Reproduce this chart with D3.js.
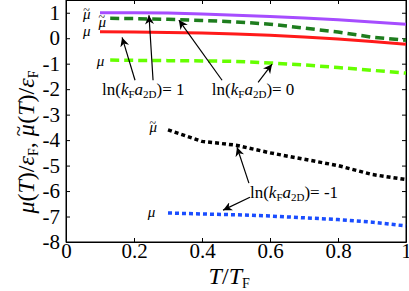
<!DOCTYPE html>
<html>
<head>
<meta charset="utf-8">
<script src="https://cdn.jsdelivr.net/npm/d3@7"></script>
<style>
  body { margin: 0; background: #fff; }
  svg { display: block; font-family: "Liberation Serif", "DejaVu Serif", serif; }
  .axis text { font-size: 21px; font-family: "Liberation Serif", serif; }
</style>
</head>
<body>
<svg id="chart" width="409" height="291"></svg>
<script>
// T/T_F values and curves
const purpleT = [0.1, 0.2, 0.3, 0.4, 0.5, 0.6, 0.7, 0.8, 0.9, 1.0];
const purpleY = [1.0, 1.0, 0.99, 0.95, 0.9, 0.85, 0.79, 0.72, 0.64, 0.55];

const redT = [0.1, 0.2, 0.3, 0.4, 0.5, 0.6, 0.7, 0.8, 0.9, 1.0];
const redY = [0.25, 0.24, 0.22, 0.2, 0.17, 0.12, 0.05, -0.03, -0.13, -0.24];

const dkGreenT = [0.13, 0.2, 0.3, 0.4, 0.5, 0.6, 0.7, 0.8, 0.9, 1.0];
const dkGreenY = [0.78, 0.77, 0.74, 0.7, 0.64, 0.55, 0.4, 0.24, 0.04, -0.08];

const ltGreenT = [0.13, 0.2, 0.3, 0.4, 0.5, 0.6, 0.7, 0.8, 0.9, 1.0];
const ltGreenY = [-0.86, -0.87, -0.88, -0.89, -0.91, -0.97, -1.05, -1.15, -1.26, -1.37];

const blackT = [0.3, 0.4, 0.5, 0.6, 0.7, 0.8, 0.9, 1.0];
const blackY = [-3.6, -4.05, -4.2, -4.5, -4.75, -5.0, -5.35, -5.55];

const blueT = [0.3, 0.4, 0.5, 0.6, 0.7, 0.8, 0.9, 1.0];
const blueY = [-6.86, -6.9, -6.93, -6.98, -7.05, -7.12, -7.22, -7.37];

const xTicks = [0, 0.2, 0.4, 0.6, 0.8, 1];
const yTicks = [-8, -7, -6, -5, -4, -3, -2, -1, 0, 1];

const series = [
  { t: purpleT, y: purpleY, color: '#a64dff', width: 3, dash: null },
  { t: redT, y: redY, color: '#ff1a1a', width: 3, dash: null },
  { t: dkGreenT, y: dkGreenY, color: '#1e7d1e', width: 3.5, dash: '9,5' },
  { t: ltGreenT, y: ltGreenY, color: '#66ff00', width: 3.5, dash: '9,5' },
  { t: blackT, y: blackY, color: '#000000', width: 3.5, dash: '4,3' },
  { t: blueT, y: blueY, color: '#1a4dff', width: 3.5, dash: '4,3' }
];

// curve labels: [T, value, tilde?]
const curveLabels = [
  [0.065, 0.75, true], [0.11, 0.45, true], [0.065, 0.08, false],
  [0.105, -1.08, false], [0.26, -3.7, true], [0.255, -7.0, false]
];

// annotations: text position and arrows [tailT, tailY, headT, headY]
const notes = [
  { at: [0.106, -2.24], val: '1', arrows: [[0.203, -1.65, 0.165, 0.03], [0.256, -1.65, 0.244, 0.9]] },
  { at: [0.429, -2.24], val: '0', arrows: [[0.459, -1.65, 0.332, 0.71], [0.565, -1.73, 0.606, -1.02]] },
  { at: [0.541, -6.27], val: '-1', arrows: [[0.538, -5.69, 0.503, -4.28], [0.541, -6.24, 0.462, -6.75]] }
];

const svg = d3.select('#chart');
const margin = { left: 66, right: 3, top: 0, bottom: 49 };
const width = 409 - margin.left - margin.right;
const height = 291 - margin.top - margin.bottom;

const x = d3.scaleLinear().domain([0, 1]).range([margin.left, margin.left + width]);
const y = d3.scaleLinear().domain([-8, 1.5]).range([margin.top + height, margin.top]);

svg.append('defs').append('marker')
  .attr('id', 'arr')
  .attr('viewBox', '0 0 10 10')
  .attr('refX', 10).attr('refY', 5)
  .attr('markerWidth', 9).attr('markerHeight', 9)
  .attr('markerUnits', 'userSpaceOnUse')
  .attr('orient', 'auto')
  .append('path').attr('d', 'M0,0 L10,5 L0,10 L3,5 Z').attr('fill', '#000');

// axes, ticks inward on all four sides
svg.append('g').attr('class', 'axis')
  .attr('transform', 'translate(0,' + (margin.top + height) + ')')
  .call(d3.axisBottom(x).tickValues(xTicks).tickSizeInner(-4).tickSizeOuter(0).tickPadding(1).tickFormat(d3.format('')));
svg.append('g').attr('class', 'axis')
  .attr('transform', 'translate(' + margin.left + ',0)')
  .call(d3.axisLeft(y).tickValues(yTicks).tickSizeInner(-4).tickSizeOuter(0).tickPadding(6).tickFormat(d => d < 0 ? '-' + Math.abs(d) : d));
svg.append('g').attr('class', 'axis')
  .attr('transform', 'translate(0,' + margin.top + ')')
  .call(d3.axisTop(x).tickValues(xTicks).tickSizeInner(-4).tickSizeOuter(0).tickFormat(''));
svg.append('g').attr('class', 'axis')
  .attr('transform', 'translate(' + (margin.left + width) + ',0)')
  .call(d3.axisRight(y).tickValues(yTicks).tickSizeInner(-4).tickSizeOuter(0).tickFormat(''));
svg.selectAll('.axis path, .axis line').attr('stroke', '#000').attr('stroke-width', 1);
svg.selectAll('.axis text').attr('fill', '#000');

svg.append('rect')
  .attr('x', margin.left).attr('y', margin.top + 0.5)
  .attr('width', width).attr('height', height - 0.5)
  .attr('fill', 'none').attr('stroke', '#000').attr('stroke-width', 1);

const line = d3.line().x(d => x(d[0])).y(d => y(d[1]));
series.forEach(s => {
  svg.append('path')
    .datum(s.t.map((t, i) => [t, s.y[i]]))
    .attr('d', line)
    .attr('fill', 'none')
    .attr('stroke', s.color)
    .attr('stroke-width', s.width)
    .attr('stroke-dasharray', s.dash);
});

// mu with an optional tilde drawn as a separate small glyph above it
function muTilde(sel, size, tilde) {
  sel.append('tspan').attr('font-style', 'italic').text('μ');
  if (tilde) {
    sel.append('tspan')
      .attr('dx', -0.5 * size).attr('dy', -0.36 * size)
      .attr('font-size', size * 0.8)
      .text('~');
    sel.append('tspan').attr('dy', 0.36 * size).text('\u200a');
  }
}

curveLabels.forEach(c => {
  const t = svg.append('text')
    .attr('x', x(c[0]) - 5).attr('y', y(c[1]))
    .attr('font-size', 15);
  muTilde(t, 15, c[2]);
});

notes.forEach(n => {
  const t = svg.append('text')
    .attr('x', x(n.at[0])).attr('y', y(n.at[1]))
    .attr('font-size', 17);
  t.append('tspan').text('ln(');
  t.append('tspan').attr('font-style', 'italic').text('k');
  t.append('tspan').attr('font-size', 11).attr('baseline-shift', '-25%').text('F');
  t.append('tspan').attr('font-style', 'italic').text('a');
  t.append('tspan').attr('font-size', 11).attr('baseline-shift', '-25%').text('2D');
  t.append('tspan').text(')= ' + n.val);
  n.arrows.forEach(a => {
    svg.append('line')
      .attr('x1', x(a[0])).attr('y1', y(a[1]))
      .attr('x2', x(a[2])).attr('y2', y(a[3]))
      .attr('stroke', '#000').attr('stroke-width', 1.2)
      .attr('marker-end', 'url(#arr)');
  });
});

// axis titles
const yl = svg.append('text')
  .attr('transform', 'translate(34,' + (margin.top + 142) + ') rotate(-90)')
  .attr('text-anchor', 'middle')
  .attr('font-size', 24);
yl.append('tspan').attr('font-style', 'italic').text('μ');
yl.append('tspan').text('(');
yl.append('tspan').attr('font-style', 'italic').text('T');
yl.append('tspan').text(')/');
yl.append('tspan').attr('font-style', 'italic').text('ε');
yl.append('tspan').attr('font-size', 14).attr('baseline-shift', '-25%').text('F');
yl.append('tspan').text(', ');
muTilde(yl, 24, true);
yl.append('tspan').text('(');
yl.append('tspan').attr('font-style', 'italic').text('T');
yl.append('tspan').text(')/');
yl.append('tspan').attr('font-style', 'italic').text('ε');
yl.append('tspan').attr('font-size', 14).attr('baseline-shift', '-25%').text('F');

const xl = svg.append('text')
  .attr('x', x(0.48)).attr('y', 284)
  .attr('text-anchor', 'middle')
  .attr('font-size', 24);
xl.append('tspan').attr('font-style', 'italic').text('T');
xl.append('tspan').text('/');
xl.append('tspan').attr('font-style', 'italic').text('T');
xl.append('tspan').attr('font-size', 14).attr('baseline-shift', '-25%').text('F');
</script>
</body>
</html>
